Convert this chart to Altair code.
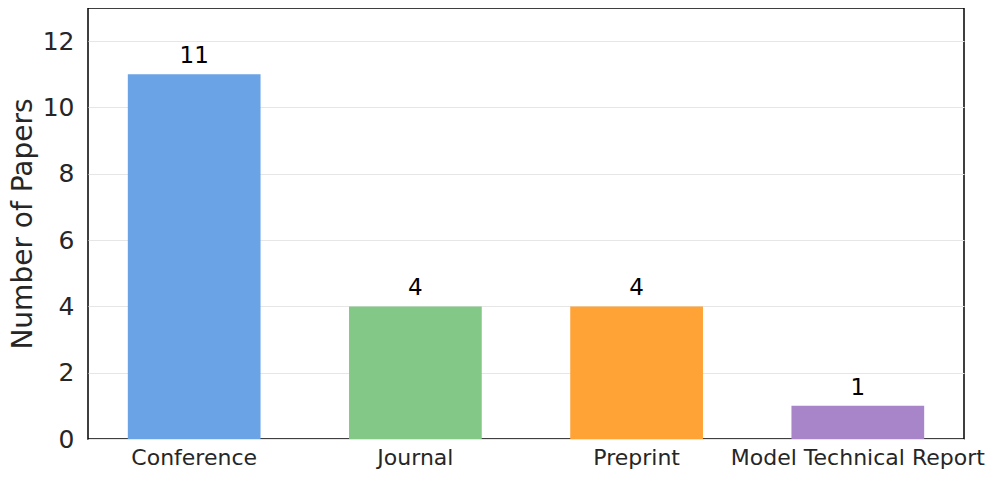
import altair as alt
import pandas as pd

categories = ["Conference", "Journal", "Preprint", "Model Technical Report"]
counts = [11, 4, 4, 1]
colors = ["#6aa3e6", "#84c888", "#ffa336", "#a885c9"]

df = pd.DataFrame({"category": categories, "count": counts, "color": colors})

FONT = "DejaVu Sans"

x_enc = alt.X(
    "category:N",
    sort=categories,
    scale=alt.Scale(paddingInner=0.4, paddingOuter=0.18),
    axis=alt.Axis(title=None, labelAngle=0, labelFontSize=22, labelColor="#262626",
                  labelFont=FONT, ticks=False, domain=False, labelPadding=8,
                  labelLimit=0, labelOverlap=False),
)
y_scale = alt.Scale(domain=[0, 13], nice=False, zero=True)

bars = alt.Chart(df).mark_bar().encode(
    x=x_enc,
    y=alt.Y("count:Q", scale=y_scale,
            axis=alt.Axis(title="Number of Papers", values=[0, 2, 4, 6, 8, 10, 12],
                          titleFontSize=28, titleFont=FONT, titleFontWeight="normal",
                          titleColor="#262626", titlePadding=5,
                          labelFontSize=25, labelFont=FONT, labelColor="#262626",
                          ticks=False, domain=False, labelPadding=14,
                          grid=True, gridColor="#e6e6e6", gridWidth=1.2)),
    color=alt.Color("color:N", scale=None),
)

labels = alt.Chart(df).mark_text(
    baseline="alphabetic", dy=-11, fontSize=23, font=FONT, color="black"
).encode(
    x=alt.X("category:N", sort=categories),
    y=alt.Y("count:Q", scale=y_scale),
    text="count:Q",
)

chart = (bars + labels).properties(
    width=876, height=431,
    padding={"left": 80, "top": 0, "right": 23, "bottom": 30},
    autosize=alt.AutoSizeParams(type="none"),
).configure(background="white").configure_view(stroke="black", strokeWidth=1.5)

chart.save("out.html", embed_options={"renderer": "svg", "actions": False})
